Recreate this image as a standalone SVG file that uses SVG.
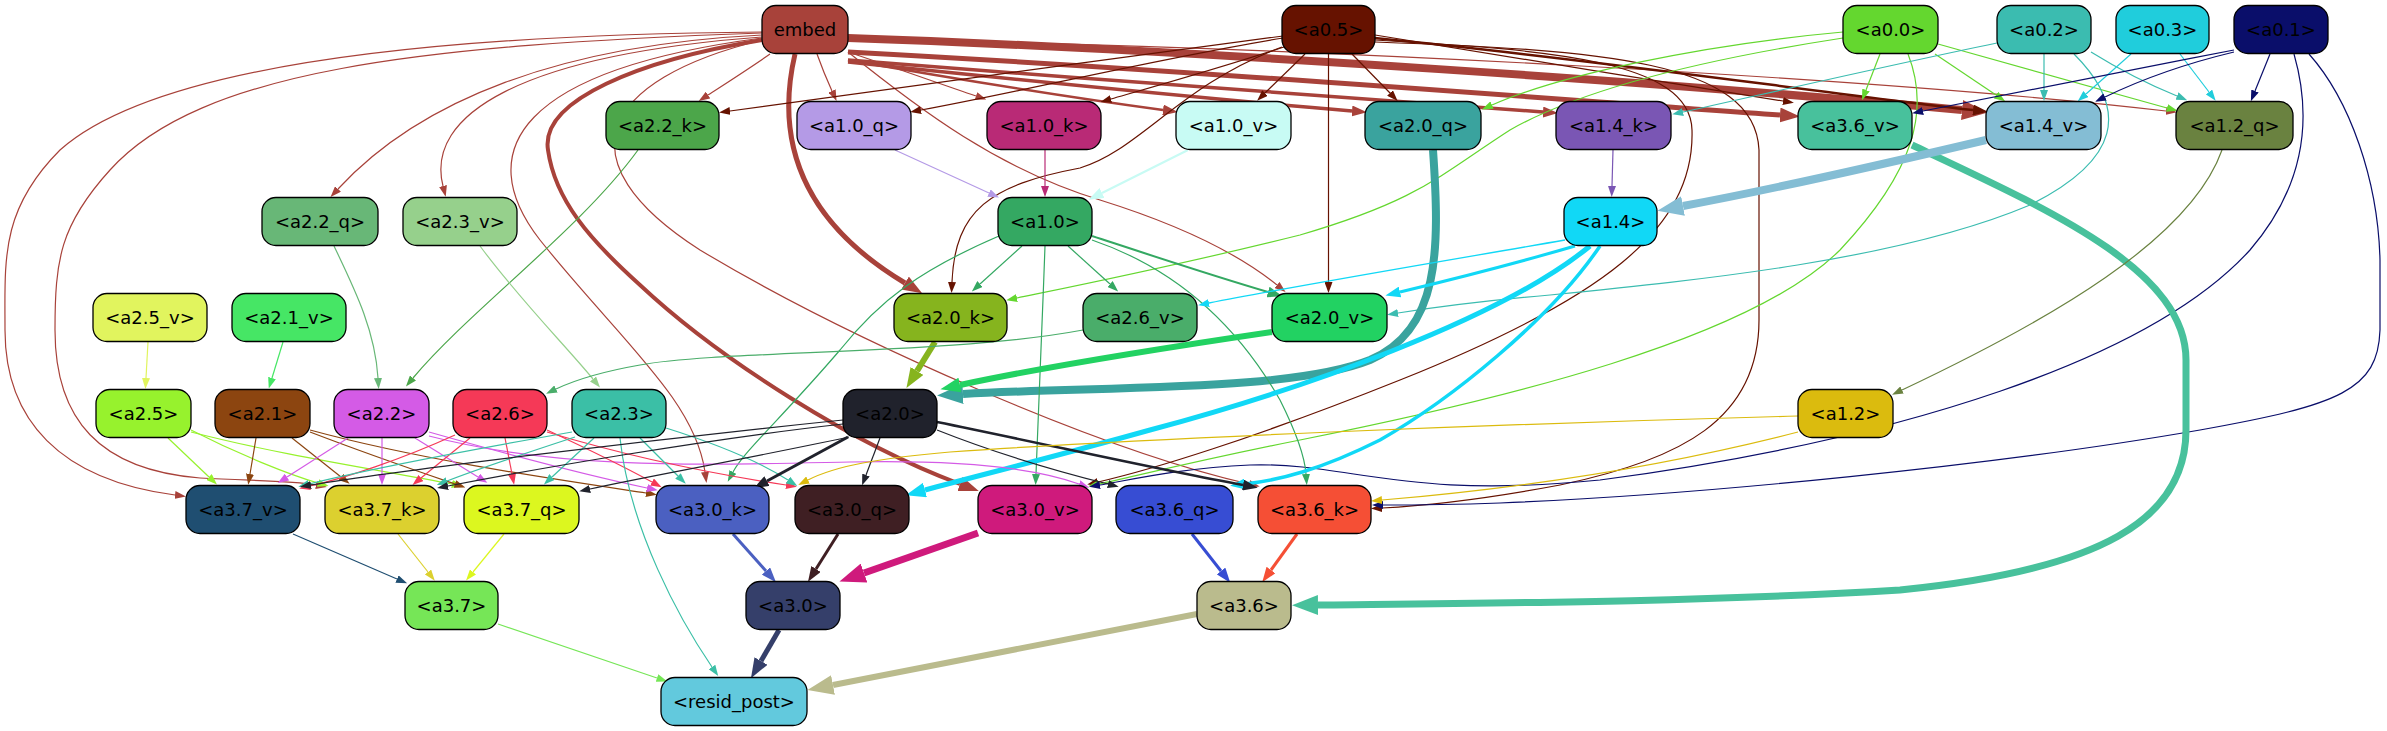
<svg xmlns="http://www.w3.org/2000/svg" width="2387" height="731" viewBox="0 0 2387 731">
<style>
.node rect{stroke:#000;stroke-width:1.3}
.node text{font-family:"DejaVu Sans","Liberation Sans",sans-serif;font-size:18px;text-anchor:middle;fill:#000}
.e{fill:none;stroke-linecap:butt}
</style>
<defs>
<marker id="m_embed_s" viewBox="0 0 10 10" refX="0" refY="5" markerUnits="userSpaceOnUse" markerWidth="11" markerHeight="8" orient="auto" preserveAspectRatio="none"><path d="M0,0L10,5L0,10z" fill="#a8423a"/></marker>
<marker id="m_embed_m" viewBox="0 0 10 10" refX="0" refY="5" markerUnits="userSpaceOnUse" markerWidth="15" markerHeight="11" orient="auto" preserveAspectRatio="none"><path d="M0,0L10,5L0,10z" fill="#a8423a"/></marker>
<marker id="m_embed_l" viewBox="0 0 10 10" refX="0" refY="5" markerUnits="userSpaceOnUse" markerWidth="20" markerHeight="15" orient="auto" preserveAspectRatio="none"><path d="M0,0L10,5L0,10z" fill="#a8423a"/></marker>
<marker id="m_embed_xl" viewBox="0 0 10 10" refX="0" refY="5" markerUnits="userSpaceOnUse" markerWidth="26" markerHeight="20" orient="auto" preserveAspectRatio="none"><path d="M0,0L10,5L0,10z" fill="#a8423a"/></marker>
<marker id="m_a05_s" viewBox="0 0 10 10" refX="0" refY="5" markerUnits="userSpaceOnUse" markerWidth="11" markerHeight="8" orient="auto" preserveAspectRatio="none"><path d="M0,0L10,5L0,10z" fill="#661200"/></marker>
<marker id="m_a05_m" viewBox="0 0 10 10" refX="0" refY="5" markerUnits="userSpaceOnUse" markerWidth="15" markerHeight="11" orient="auto" preserveAspectRatio="none"><path d="M0,0L10,5L0,10z" fill="#661200"/></marker>
<marker id="m_a00_s" viewBox="0 0 10 10" refX="0" refY="5" markerUnits="userSpaceOnUse" markerWidth="11" markerHeight="8" orient="auto" preserveAspectRatio="none"><path d="M0,0L10,5L0,10z" fill="#64d72f"/></marker>
<marker id="m_a02_s" viewBox="0 0 10 10" refX="0" refY="5" markerUnits="userSpaceOnUse" markerWidth="11" markerHeight="8" orient="auto" preserveAspectRatio="none"><path d="M0,0L10,5L0,10z" fill="#3bbcb0"/></marker>
<marker id="m_a03_s" viewBox="0 0 10 10" refX="0" refY="5" markerUnits="userSpaceOnUse" markerWidth="11" markerHeight="8" orient="auto" preserveAspectRatio="none"><path d="M0,0L10,5L0,10z" fill="#20cddc"/></marker>
<marker id="m_a01_s" viewBox="0 0 10 10" refX="0" refY="5" markerUnits="userSpaceOnUse" markerWidth="11" markerHeight="8" orient="auto" preserveAspectRatio="none"><path d="M0,0L10,5L0,10z" fill="#0a0e6a"/></marker>
<marker id="m_a22k_s" viewBox="0 0 10 10" refX="0" refY="5" markerUnits="userSpaceOnUse" markerWidth="11" markerHeight="8" orient="auto" preserveAspectRatio="none"><path d="M0,0L10,5L0,10z" fill="#4ca64a"/></marker>
<marker id="m_a10q_s" viewBox="0 0 10 10" refX="0" refY="5" markerUnits="userSpaceOnUse" markerWidth="11" markerHeight="8" orient="auto" preserveAspectRatio="none"><path d="M0,0L10,5L0,10z" fill="#b49ae6"/></marker>
<marker id="m_a10k_s" viewBox="0 0 10 10" refX="0" refY="5" markerUnits="userSpaceOnUse" markerWidth="11" markerHeight="8" orient="auto" preserveAspectRatio="none"><path d="M0,0L10,5L0,10z" fill="#b92a76"/></marker>
<marker id="m_a10v_m" viewBox="0 0 10 10" refX="0" refY="5" markerUnits="userSpaceOnUse" markerWidth="15" markerHeight="11" orient="auto" preserveAspectRatio="none"><path d="M0,0L10,5L0,10z" fill="#c8fbf4"/></marker>
<marker id="m_a20q_xl" viewBox="0 0 10 10" refX="0" refY="5" markerUnits="userSpaceOnUse" markerWidth="26" markerHeight="20" orient="auto" preserveAspectRatio="none"><path d="M0,0L10,5L0,10z" fill="#3aa39e"/></marker>
<marker id="m_a14k_s" viewBox="0 0 10 10" refX="0" refY="5" markerUnits="userSpaceOnUse" markerWidth="11" markerHeight="8" orient="auto" preserveAspectRatio="none"><path d="M0,0L10,5L0,10z" fill="#7a56b4"/></marker>
<marker id="m_a36v_xl" viewBox="0 0 10 10" refX="0" refY="5" markerUnits="userSpaceOnUse" markerWidth="26" markerHeight="20" orient="auto" preserveAspectRatio="none"><path d="M0,0L10,5L0,10z" fill="#48c19c"/></marker>
<marker id="m_a14v_xl" viewBox="0 0 10 10" refX="0" refY="5" markerUnits="userSpaceOnUse" markerWidth="26" markerHeight="20" orient="auto" preserveAspectRatio="none"><path d="M0,0L10,5L0,10z" fill="#84bdd4"/></marker>
<marker id="m_a12q_s" viewBox="0 0 10 10" refX="0" refY="5" markerUnits="userSpaceOnUse" markerWidth="11" markerHeight="8" orient="auto" preserveAspectRatio="none"><path d="M0,0L10,5L0,10z" fill="#6a8240"/></marker>
<marker id="m_a22q_s" viewBox="0 0 10 10" refX="0" refY="5" markerUnits="userSpaceOnUse" markerWidth="11" markerHeight="8" orient="auto" preserveAspectRatio="none"><path d="M0,0L10,5L0,10z" fill="#68b777"/></marker>
<marker id="m_a23v_s" viewBox="0 0 10 10" refX="0" refY="5" markerUnits="userSpaceOnUse" markerWidth="11" markerHeight="8" orient="auto" preserveAspectRatio="none"><path d="M0,0L10,5L0,10z" fill="#96d08c"/></marker>
<marker id="m_a10_s" viewBox="0 0 10 10" refX="0" refY="5" markerUnits="userSpaceOnUse" markerWidth="11" markerHeight="8" orient="auto" preserveAspectRatio="none"><path d="M0,0L10,5L0,10z" fill="#34a862"/></marker>
<marker id="m_a10_m" viewBox="0 0 10 10" refX="0" refY="5" markerUnits="userSpaceOnUse" markerWidth="15" markerHeight="11" orient="auto" preserveAspectRatio="none"><path d="M0,0L10,5L0,10z" fill="#34a862"/></marker>
<marker id="m_a14_s" viewBox="0 0 10 10" refX="0" refY="5" markerUnits="userSpaceOnUse" markerWidth="11" markerHeight="8" orient="auto" preserveAspectRatio="none"><path d="M0,0L10,5L0,10z" fill="#11d8f6"/></marker>
<marker id="m_a14_m" viewBox="0 0 10 10" refX="0" refY="5" markerUnits="userSpaceOnUse" markerWidth="15" markerHeight="11" orient="auto" preserveAspectRatio="none"><path d="M0,0L10,5L0,10z" fill="#11d8f6"/></marker>
<marker id="m_a14_l" viewBox="0 0 10 10" refX="0" refY="5" markerUnits="userSpaceOnUse" markerWidth="20" markerHeight="15" orient="auto" preserveAspectRatio="none"><path d="M0,0L10,5L0,10z" fill="#11d8f6"/></marker>
<marker id="m_a25v_s" viewBox="0 0 10 10" refX="0" refY="5" markerUnits="userSpaceOnUse" markerWidth="11" markerHeight="8" orient="auto" preserveAspectRatio="none"><path d="M0,0L10,5L0,10z" fill="#e1f45e"/></marker>
<marker id="m_a21v_s" viewBox="0 0 10 10" refX="0" refY="5" markerUnits="userSpaceOnUse" markerWidth="11" markerHeight="8" orient="auto" preserveAspectRatio="none"><path d="M0,0L10,5L0,10z" fill="#46e665"/></marker>
<marker id="m_a20k_l" viewBox="0 0 10 10" refX="0" refY="5" markerUnits="userSpaceOnUse" markerWidth="20" markerHeight="15" orient="auto" preserveAspectRatio="none"><path d="M0,0L10,5L0,10z" fill="#86b41e"/></marker>
<marker id="m_a20v_l" viewBox="0 0 10 10" refX="0" refY="5" markerUnits="userSpaceOnUse" markerWidth="20" markerHeight="15" orient="auto" preserveAspectRatio="none"><path d="M0,0L10,5L0,10z" fill="#22d262"/></marker>
<marker id="m_a26v_s" viewBox="0 0 10 10" refX="0" refY="5" markerUnits="userSpaceOnUse" markerWidth="11" markerHeight="8" orient="auto" preserveAspectRatio="none"><path d="M0,0L10,5L0,10z" fill="#4aad6a"/></marker>
<marker id="m_a25_s" viewBox="0 0 10 10" refX="0" refY="5" markerUnits="userSpaceOnUse" markerWidth="11" markerHeight="8" orient="auto" preserveAspectRatio="none"><path d="M0,0L10,5L0,10z" fill="#97f22d"/></marker>
<marker id="m_a21_s" viewBox="0 0 10 10" refX="0" refY="5" markerUnits="userSpaceOnUse" markerWidth="11" markerHeight="8" orient="auto" preserveAspectRatio="none"><path d="M0,0L10,5L0,10z" fill="#8c4510"/></marker>
<marker id="m_a22_s" viewBox="0 0 10 10" refX="0" refY="5" markerUnits="userSpaceOnUse" markerWidth="11" markerHeight="8" orient="auto" preserveAspectRatio="none"><path d="M0,0L10,5L0,10z" fill="#d45be6"/></marker>
<marker id="m_a26_s" viewBox="0 0 10 10" refX="0" refY="5" markerUnits="userSpaceOnUse" markerWidth="11" markerHeight="8" orient="auto" preserveAspectRatio="none"><path d="M0,0L10,5L0,10z" fill="#f53957"/></marker>
<marker id="m_a23_s" viewBox="0 0 10 10" refX="0" refY="5" markerUnits="userSpaceOnUse" markerWidth="11" markerHeight="8" orient="auto" preserveAspectRatio="none"><path d="M0,0L10,5L0,10z" fill="#3bbfa6"/></marker>
<marker id="m_a20_s" viewBox="0 0 10 10" refX="0" refY="5" markerUnits="userSpaceOnUse" markerWidth="11" markerHeight="8" orient="auto" preserveAspectRatio="none"><path d="M0,0L10,5L0,10z" fill="#20222c"/></marker>
<marker id="m_a20_m" viewBox="0 0 10 10" refX="0" refY="5" markerUnits="userSpaceOnUse" markerWidth="15" markerHeight="11" orient="auto" preserveAspectRatio="none"><path d="M0,0L10,5L0,10z" fill="#20222c"/></marker>
<marker id="m_a12_s" viewBox="0 0 10 10" refX="0" refY="5" markerUnits="userSpaceOnUse" markerWidth="11" markerHeight="8" orient="auto" preserveAspectRatio="none"><path d="M0,0L10,5L0,10z" fill="#dbbb0e"/></marker>
<marker id="m_a37v_s" viewBox="0 0 10 10" refX="0" refY="5" markerUnits="userSpaceOnUse" markerWidth="11" markerHeight="8" orient="auto" preserveAspectRatio="none"><path d="M0,0L10,5L0,10z" fill="#1f4e71"/></marker>
<marker id="m_a37k_s" viewBox="0 0 10 10" refX="0" refY="5" markerUnits="userSpaceOnUse" markerWidth="11" markerHeight="8" orient="auto" preserveAspectRatio="none"><path d="M0,0L10,5L0,10z" fill="#dcd02f"/></marker>
<marker id="m_a37q_s" viewBox="0 0 10 10" refX="0" refY="5" markerUnits="userSpaceOnUse" markerWidth="11" markerHeight="8" orient="auto" preserveAspectRatio="none"><path d="M0,0L10,5L0,10z" fill="#dcf71f"/></marker>
<marker id="m_a30k_m" viewBox="0 0 10 10" refX="0" refY="5" markerUnits="userSpaceOnUse" markerWidth="15" markerHeight="11" orient="auto" preserveAspectRatio="none"><path d="M0,0L10,5L0,10z" fill="#4b60c1"/></marker>
<marker id="m_a30q_m" viewBox="0 0 10 10" refX="0" refY="5" markerUnits="userSpaceOnUse" markerWidth="15" markerHeight="11" orient="auto" preserveAspectRatio="none"><path d="M0,0L10,5L0,10z" fill="#3f1f23"/></marker>
<marker id="m_a30v_xl" viewBox="0 0 10 10" refX="0" refY="5" markerUnits="userSpaceOnUse" markerWidth="26" markerHeight="20" orient="auto" preserveAspectRatio="none"><path d="M0,0L10,5L0,10z" fill="#cf1a7c"/></marker>
<marker id="m_a36q_m" viewBox="0 0 10 10" refX="0" refY="5" markerUnits="userSpaceOnUse" markerWidth="15" markerHeight="11" orient="auto" preserveAspectRatio="none"><path d="M0,0L10,5L0,10z" fill="#374dd3"/></marker>
<marker id="m_a36k_m" viewBox="0 0 10 10" refX="0" refY="5" markerUnits="userSpaceOnUse" markerWidth="15" markerHeight="11" orient="auto" preserveAspectRatio="none"><path d="M0,0L10,5L0,10z" fill="#f54f35"/></marker>
<marker id="m_a37_s" viewBox="0 0 10 10" refX="0" refY="5" markerUnits="userSpaceOnUse" markerWidth="11" markerHeight="8" orient="auto" preserveAspectRatio="none"><path d="M0,0L10,5L0,10z" fill="#76e657"/></marker>
<marker id="m_a30_l" viewBox="0 0 10 10" refX="0" refY="5" markerUnits="userSpaceOnUse" markerWidth="20" markerHeight="15" orient="auto" preserveAspectRatio="none"><path d="M0,0L10,5L0,10z" fill="#353f6a"/></marker>
<marker id="m_a36_xl" viewBox="0 0 10 10" refX="0" refY="5" markerUnits="userSpaceOnUse" markerWidth="26" markerHeight="20" orient="auto" preserveAspectRatio="none"><path d="M0,0L10,5L0,10z" fill="#babb8d"/></marker>
</defs>
<rect x="0" y="0" width="2387" height="731" fill="#fff"/>
<g id="connectors">
<!-- embed -->
<path class="e" d="M770,54 C750,68 728,82 708,95" stroke="#a8423a" stroke-width="1.2" marker-end="url(#m_embed_s)"/>
<path class="e" d="M817,54 C822,68 827,80 832,91" stroke="#a8423a" stroke-width="1.2" marker-end="url(#m_embed_s)"/>
<path class="e" d="M848,52 C890,66 935,82 976,96" stroke="#a8423a" stroke-width="1.2" marker-end="url(#m_embed_s)"/>
<path class="e" d="M848,60 C950,78 1060,96 1163,110" stroke="#a8423a" stroke-width="2.5" marker-end="url(#m_embed_m)"/>
<path class="e" d="M848,62 C1020,80 1200,98 1352,111" stroke="#a8423a" stroke-width="3.5" marker-end="url(#m_embed_m)"/>
<path class="e" d="M848,60 C1080,78 1320,97 1543,112" stroke="#a8423a" stroke-width="3.5" marker-end="url(#m_embed_m)"/>
<path class="e" d="M848,52 C1180,70 1500,95 1780,115" stroke="#a8423a" stroke-width="5" marker-end="url(#m_embed_l)"/>
<path class="e" d="M848,38 C1200,50 1700,85 1962,110" stroke="#a8423a" stroke-width="8" marker-end="url(#m_embed_xl)"/>
<path class="e" d="M848,40 C1300,45 1900,80 2166,111" stroke="#a8423a" stroke-width="1.2" marker-end="url(#m_embed_s)"/>
<path class="e" d="M762,35 C560,45 420,100 338,189" stroke="#a8423a" stroke-width="1.2" marker-end="url(#m_embed_s)"/>
<path class="e" d="M762,37 C520,55 425,115 443,186" stroke="#a8423a" stroke-width="1.2" marker-end="url(#m_embed_s)"/>
<path class="e" d="M795,54 C775,140 800,220 905,283" stroke="#a8423a" stroke-width="5" marker-end="url(#m_embed_l)"/>
<path class="e" d="M762,40 C640,60 540,100 548,150 C555,200 590,240 640,285 C720,360 855,445 960,484" stroke="#a8423a" stroke-width="4" marker-end="url(#m_embed_l)"/>
<path class="e" d="M762,32 C400,35 150,70 60,150 C0,210 5,260 5,330 C5,420 60,480 175,495" stroke="#a8423a" stroke-width="1.2" marker-end="url(#m_embed_s)"/>
<path class="e" d="M762,33 C420,45 200,70 110,170 C60,225 55,260 55,330 C55,420 100,470 200,478 C250,481 290,480 316,485" stroke="#a8423a" stroke-width="1.2" marker-end="url(#m_embed_s)"/>
<path class="e" d="M762,38 C520,70 470,150 540,240 C620,340 695,400 705,472" stroke="#a8423a" stroke-width="1.2" marker-end="url(#m_embed_s)"/>
<path class="e" d="M762,40 C600,80 560,160 700,250 C850,340 1100,450 1249,484" stroke="#a8423a" stroke-width="1.2" marker-end="url(#m_embed_s)"/>
<path class="e" d="M848,52 C920,110 1000,170 1100,200 C1180,225 1240,255 1277,285" stroke="#a8423a" stroke-width="1.2" marker-end="url(#m_embed_s)"/>
<!-- a0.5 -->
<path class="e" d="M1283,36 C1100,60 900,88 730,111" stroke="#661200" stroke-width="1.2" marker-end="url(#m_a05_s)"/>
<path class="e" d="M1283,38 C1150,60 1030,90 921,110" stroke="#661200" stroke-width="1.2" marker-end="url(#m_a05_s)"/>
<path class="e" d="M1290,45 C1230,65 1170,82 1111,99" stroke="#661200" stroke-width="1.2" marker-end="url(#m_a05_s)"/>
<path class="e" d="M1305,54 L1265,93" stroke="#661200" stroke-width="1.2" marker-end="url(#m_a05_s)"/>
<path class="e" d="M1352,54 L1390,93" stroke="#661200" stroke-width="1.2" marker-end="url(#m_a05_s)"/>
<path class="e" d="M1375,35 C1500,55 1650,80 1783,101" stroke="#661200" stroke-width="1.2" marker-end="url(#m_a05_s)"/>
<path class="e" d="M1375,38 C1600,60 1800,90 1973,110" stroke="#661200" stroke-width="2.5" marker-end="url(#m_a05_m)"/>
<path class="e" d="M1282,47 C1180,85 1140,150 1080,168 C990,185 955,210 952,282" stroke="#661200" stroke-width="1.2" marker-end="url(#m_a05_s)"/>
<path class="e" d="M1328.5,54 L1328.5,282" stroke="#661200" stroke-width="1.2" marker-end="url(#m_a05_s)"/>
<path class="e" d="M1375,40 C1550,50 1690,60 1692,130 C1695,230 1600,300 1400,380 C1250,440 1150,470 1098,482" stroke="#661200" stroke-width="1.2" marker-end="url(#m_a05_s)"/>
<path class="e" d="M1375,42 C1600,50 1755,60 1759,150 L1759,320 C1759,420 1680,460 1560,485 C1480,500 1420,506 1382,508" stroke="#661200" stroke-width="1.2" marker-end="url(#m_a05_s)"/>
<!-- a0.0 -->
<path class="e" d="M1843,32 C1700,45 1560,75 1492,105" stroke="#64d72f" stroke-width="1.2" marker-end="url(#m_a00_s)"/>
<path class="e" d="M1843,38 C1700,60 1580,90 1510,130 C1440,175 1420,200 1300,235 C1180,265 1080,285 1017,298" stroke="#64d72f" stroke-width="1.2" marker-end="url(#m_a00_s)"/>
<path class="e" d="M1880,54 L1866,90" stroke="#64d72f" stroke-width="1.2" marker-end="url(#m_a00_s)"/>
<path class="e" d="M1935,54 L1996,95" stroke="#64d72f" stroke-width="1.2" marker-end="url(#m_a00_s)"/>
<path class="e" d="M1938,44 C2020,67 2100,90 2167,108" stroke="#64d72f" stroke-width="1.2" marker-end="url(#m_a00_s)"/>
<path class="e" d="M1908,54 C1930,110 1915,170 1840,250 C1750,340 1500,400 1300,440 C1200,460 1140,475 1099,484" stroke="#64d72f" stroke-width="1.2" marker-end="url(#m_a00_s)"/>
<!-- a0.2 -->
<path class="e" d="M1997,43 C1890,65 1760,95 1683,112" stroke="#3bbcb0" stroke-width="1.2" marker-end="url(#m_a02_s)"/>
<path class="e" d="M2044,54 L2044,90" stroke="#3bbcb0" stroke-width="1.2" marker-end="url(#m_a02_s)"/>
<path class="e" d="M2091,52 C2120,70 2150,85 2177,96" stroke="#3bbcb0" stroke-width="1.2" marker-end="url(#m_a02_s)"/>
<path class="e" d="M2074,54 C2130,110 2120,160 2030,205 C1900,260 1700,280 1550,295 C1470,302 1430,308 1398,313" stroke="#3bbcb0" stroke-width="1.2" marker-end="url(#m_a02_s)"/>
<!-- a0.3 -->
<path class="e" d="M2131,54 L2086,94" stroke="#20cddc" stroke-width="1.2" marker-end="url(#m_a03_s)"/>
<path class="e" d="M2180,54 L2209,92" stroke="#20cddc" stroke-width="1.2" marker-end="url(#m_a03_s)"/>
<!-- a0.1 -->
<path class="e" d="M2234,50 C2120,72 2000,95 1923,111" stroke="#0a0e6a" stroke-width="1.2" marker-end="url(#m_a01_s)"/>
<path class="e" d="M2234,52 C2180,65 2140,80 2105,97" stroke="#0a0e6a" stroke-width="1.2" marker-end="url(#m_a01_s)"/>
<path class="e" d="M2270,54 L2255,91" stroke="#0a0e6a" stroke-width="1.2" marker-end="url(#m_a01_s)"/>
<path class="e" d="M2294,54 C2310,110 2310,180 2250,250 C2150,360 1900,440 1600,480 C1400,500 1350,462 1250,465 C1180,468 1130,480 1100,485" stroke="#0a0e6a" stroke-width="1.2" marker-end="url(#m_a01_s)"/>
<path class="e" d="M2309,54 C2350,100 2378,180 2380,260 L2380,330 C2378,390 2340,405 2200,430 C2000,465 1700,495 1500,503 C1440,505 1410,505 1383,505" stroke="#0a0e6a" stroke-width="1.2" marker-end="url(#m_a01_s)"/>
<!-- row 2 sources -->
<path class="e" d="M638,150 C580,230 470,310 413,378" stroke="#4ca64a" stroke-width="1.2" marker-end="url(#m_a22k_s)"/>
<path class="e" d="M895,150 L989,193" stroke="#b49ae6" stroke-width="1.2" marker-end="url(#m_a10q_s)"/>
<path class="e" d="M1045,150 L1045,186" stroke="#b92a76" stroke-width="1.2" marker-end="url(#m_a10k_s)"/>
<path class="e" d="M1188,150 L1102,193" stroke="#c8fbf4" stroke-width="2.2" marker-end="url(#m_a10v_m)"/>
<path class="e" d="M1433,150 C1440,250 1440,330 1370,360 C1290,392 1100,386 963,394" stroke="#3aa39e" stroke-width="8" marker-end="url(#m_a20q_xl)"/>
<path class="e" d="M1613,150 L1612,186" stroke="#7a56b4" stroke-width="1.2" marker-end="url(#m_a14k_s)"/>
<path class="e" d="M1912,145 C2050,210 2186,270 2186,360 L2186,430 C2186,520 2100,570 1900,590 C1700,602 1500,603 1318,605" stroke="#48c19c" stroke-width="7" marker-end="url(#m_a36v_xl)"/>
<path class="e" d="M1986,140 C1880,165 1780,188 1683,206" stroke="#84bdd4" stroke-width="8" marker-end="url(#m_a14v_xl)"/>
<path class="e" d="M2222,150 C2190,240 2050,320 1902,390" stroke="#6a8240" stroke-width="1.2" marker-end="url(#m_a12q_s)"/>
<!-- row 3 sources -->
<path class="e" d="M334,246 C355,290 375,330 378,378" stroke="#68b777" stroke-width="1.2" marker-end="url(#m_a22q_s)"/>
<path class="e" d="M480,246 C520,300 565,345 593,379" stroke="#96d08c" stroke-width="1.2" marker-end="url(#m_a23v_s)"/>
<path class="e" d="M1022,246 L980,284" stroke="#34a862" stroke-width="1.2" marker-end="url(#m_a10_s)"/>
<path class="e" d="M1068,246 L1110,284" stroke="#34a862" stroke-width="1.2" marker-end="url(#m_a10_s)"/>
<path class="e" d="M1092,236 C1150,255 1210,275 1268,292" stroke="#34a862" stroke-width="2" marker-end="url(#m_a10_m)"/>
<path class="e" d="M999,236 C920,270 880,300 840,350 C780,420 745,450 733,472" stroke="#34a862" stroke-width="1.2" marker-end="url(#m_a10_s)"/>
<path class="e" d="M1045,246 C1042,330 1038,420 1036,474" stroke="#34a862" stroke-width="1.2" marker-end="url(#m_a10_s)"/>
<path class="e" d="M1092,240 C1180,270 1240,330 1280,400 C1300,440 1305,460 1306,474" stroke="#34a862" stroke-width="1.2" marker-end="url(#m_a10_s)"/>
<path class="e" d="M1575,246 C1510,265 1450,280 1400,292" stroke="#11d8f6" stroke-width="3" marker-end="url(#m_a14_m)"/>
<path class="e" d="M1565,240 C1450,260 1300,285 1209,303" stroke="#11d8f6" stroke-width="1.3" marker-end="url(#m_a14_s)"/>
<path class="e" d="M1590,246 C1500,320 1300,390 1150,430 C1050,458 980,475 925,490" stroke="#11d8f6" stroke-width="5" marker-end="url(#m_a14_l)"/>
<path class="e" d="M1600,246 C1550,320 1450,400 1380,440 C1320,470 1280,480 1245,484" stroke="#11d8f6" stroke-width="3.5" marker-end="url(#m_a14_m)"/>
<!-- row 4 sources -->
<path class="e" d="M148,342 L146,378" stroke="#e1f45e" stroke-width="1.2" marker-end="url(#m_a25v_s)"/>
<path class="e" d="M283,342 L272,378" stroke="#46e665" stroke-width="1.2" marker-end="url(#m_a21v_s)"/>
<path class="e" d="M935,342 L917,371" stroke="#86b41e" stroke-width="6" marker-end="url(#m_a20k_l)"/>
<path class="e" d="M1272,332 C1150,350 1030,370 960,385" stroke="#22d262" stroke-width="6" marker-end="url(#m_a20v_l)"/>
<path class="e" d="M1083,330 C950,355 720,350 640,365 C600,372 575,380 556,389" stroke="#4aad6a" stroke-width="1.2" marker-end="url(#m_a26v_s)"/>
<!-- row 5 sources -->
<path class="e" d="M168,438 L209,477" stroke="#97f22d" stroke-width="1.2" marker-end="url(#m_a25_s)"/>
<path class="e" d="M191,430 C240,455 290,475 318,483" stroke="#97f22d" stroke-width="1.2" marker-end="url(#m_a25_s)"/>
<path class="e" d="M191,432 C280,455 380,470 452,484" stroke="#97f22d" stroke-width="1.2" marker-end="url(#m_a25_s)"/>
<path class="e" d="M256,438 L250,474" stroke="#8c4510" stroke-width="1.2" marker-end="url(#m_a21_s)"/>
<path class="e" d="M292,438 L341,477" stroke="#8c4510" stroke-width="1.2" marker-end="url(#m_a21_s)"/>
<path class="e" d="M310,432 C370,455 420,472 455,484" stroke="#8c4510" stroke-width="1.2" marker-end="url(#m_a21_s)"/>
<path class="e" d="M310,430 C420,460 560,480 646,493" stroke="#8c4510" stroke-width="1.2" marker-end="url(#m_a21_s)"/>
<path class="e" d="M348,438 L287,477" stroke="#d45be6" stroke-width="1.2" marker-end="url(#m_a22_s)"/>
<path class="e" d="M382,438 L382,474" stroke="#d45be6" stroke-width="1.2" marker-end="url(#m_a22_s)"/>
<path class="e" d="M415,438 L478,477" stroke="#d45be6" stroke-width="1.2" marker-end="url(#m_a22_s)"/>
<path class="e" d="M429,432 C510,455 600,478 647,488" stroke="#d45be6" stroke-width="1.2" marker-end="url(#m_a22_s)"/>
<path class="e" d="M429,436 C560,470 700,465 850,462 C950,460 1030,466 1079,484" stroke="#d45be6" stroke-width="1.2" marker-end="url(#m_a22_s)"/>
<path class="e" d="M455,435 C400,460 345,478 310,486" stroke="#f53957" stroke-width="1.2" marker-end="url(#m_a26_s)"/>
<path class="e" d="M470,438 L421,478" stroke="#f53957" stroke-width="1.2" marker-end="url(#m_a26_s)"/>
<path class="e" d="M505,438 L512,474" stroke="#f53957" stroke-width="1.2" marker-end="url(#m_a26_s)"/>
<path class="e" d="M547,430 C590,450 630,470 652,482" stroke="#f53957" stroke-width="1.2" marker-end="url(#m_a26_s)"/>
<path class="e" d="M547,432 C640,460 720,475 786,485" stroke="#f53957" stroke-width="1.2" marker-end="url(#m_a26_s)"/>
<path class="e" d="M572,432 C470,450 365,470 309,484" stroke="#3bbfa6" stroke-width="1.2" marker-end="url(#m_a23_s)"/>
<path class="e" d="M575,437 C520,455 475,470 447,481" stroke="#3bbfa6" stroke-width="1.2" marker-end="url(#m_a23_s)"/>
<path class="e" d="M594,438 L552,477" stroke="#3bbfa6" stroke-width="1.2" marker-end="url(#m_a23_s)"/>
<path class="e" d="M640,438 L678,476" stroke="#3bbfa6" stroke-width="1.2" marker-end="url(#m_a23_s)"/>
<path class="e" d="M666,428 C720,445 760,462 788,480" stroke="#3bbfa6" stroke-width="1.2" marker-end="url(#m_a23_s)"/>
<path class="e" d="M620,438 C630,530 680,620 712,667" stroke="#3bbfa6" stroke-width="1.2" marker-end="url(#m_a23_s)"/>
<path class="e" d="M843,420 C650,440 400,470 311,485" stroke="#20222c" stroke-width="1.2" marker-end="url(#m_a20_s)"/>
<path class="e" d="M843,424 C700,440 530,470 448,486" stroke="#20222c" stroke-width="1.2" marker-end="url(#m_a20_s)"/>
<path class="e" d="M849,437 C740,460 640,478 590,489" stroke="#20222c" stroke-width="1.2" marker-end="url(#m_a20_s)"/>
<path class="e" d="M848,437 L767,481" stroke="#20222c" stroke-width="3" marker-end="url(#m_a20_m)"/>
<path class="e" d="M880,438 L866,475" stroke="#20222c" stroke-width="1.2" marker-end="url(#m_a20_s)"/>
<path class="e" d="M937,430 C1000,455 1060,472 1108,484" stroke="#20222c" stroke-width="1.2" marker-end="url(#m_a20_s)"/>
<path class="e" d="M937,422 C1050,445 1160,470 1243,485" stroke="#20222c" stroke-width="2.5" marker-end="url(#m_a20_m)"/>
<path class="e" d="M1798,416 C1500,424 1150,438 950,452 C880,458 835,466 808,480" stroke="#dbbb0e" stroke-width="1.2" marker-end="url(#m_a12_s)"/>
<path class="e" d="M1798,432 C1650,470 1500,490 1382,500" stroke="#dbbb0e" stroke-width="1.2" marker-end="url(#m_a12_s)"/>
<!-- row 6 sources -->
<path class="e" d="M293,534 L397,579" stroke="#1f4e71" stroke-width="1.2" marker-end="url(#m_a37v_s)"/>
<path class="e" d="M398,534 L428,572" stroke="#dcd02f" stroke-width="1.2" marker-end="url(#m_a37k_s)"/>
<path class="e" d="M504,534 L473,572" stroke="#dcf71f" stroke-width="1.2" marker-end="url(#m_a37q_s)"/>
<path class="e" d="M733,534 L766,571" stroke="#4b60c1" stroke-width="3" marker-end="url(#m_a30k_m)"/>
<path class="e" d="M838,534 L816,569" stroke="#3f1f23" stroke-width="3" marker-end="url(#m_a30q_m)"/>
<path class="e" d="M978,533 L864,573" stroke="#cf1a7c" stroke-width="7" marker-end="url(#m_a30v_xl)"/>
<path class="e" d="M1192,534 L1221,571" stroke="#374dd3" stroke-width="3" marker-end="url(#m_a36q_m)"/>
<path class="e" d="M1297,534 L1271,570" stroke="#f54f35" stroke-width="3" marker-end="url(#m_a36k_m)"/>
<!-- row 7 sources -->
<path class="e" d="M498,624 L657,678" stroke="#76e657" stroke-width="1.2" marker-end="url(#m_a37_s)"/>
<path class="e" d="M779,630 L761,661" stroke="#353f6a" stroke-width="5" marker-end="url(#m_a30_l)"/>
<path class="e" d="M1197,614 L833,685" stroke="#babb8d" stroke-width="6" marker-end="url(#m_a36_xl)"/>
</g>
<g id="n-embed" class="node"><rect x="762" y="5.5" width="86" height="48" rx="14" fill="#a8423a"/><text x="805" y="36">embed</text></g>
<g id="n-a0.5" class="node"><rect x="1282" y="5.5" width="93" height="48" rx="14" fill="#661200"/><text x="1328.5" y="36">&lt;a0.5&gt;</text></g>
<g id="n-a0.0" class="node"><rect x="1843" y="5.5" width="95" height="48" rx="14" fill="#64d72f"/><text x="1890.5" y="36">&lt;a0.0&gt;</text></g>
<g id="n-a0.2" class="node"><rect x="1997" y="5.5" width="94" height="48" rx="14" fill="#3bbcb0"/><text x="2044" y="36">&lt;a0.2&gt;</text></g>
<g id="n-a0.3" class="node"><rect x="2116" y="5.5" width="93" height="48" rx="14" fill="#20cddc"/><text x="2162.5" y="36">&lt;a0.3&gt;</text></g>
<g id="n-a0.1" class="node"><rect x="2234" y="5.5" width="94" height="48" rx="14" fill="#0a0e6a"/><text x="2281" y="36">&lt;a0.1&gt;</text></g>
<g id="n-a2.2_k" class="node"><rect x="606" y="101.5" width="113" height="48" rx="14" fill="#4ca64a"/><text x="662.5" y="132">&lt;a2.2_k&gt;</text></g>
<g id="n-a1.0_q" class="node"><rect x="797" y="101.5" width="114" height="48" rx="14" fill="#b49ae6"/><text x="854" y="132">&lt;a1.0_q&gt;</text></g>
<g id="n-a1.0_k" class="node"><rect x="987" y="101.5" width="114" height="48" rx="14" fill="#b92a76"/><text x="1044" y="132">&lt;a1.0_k&gt;</text></g>
<g id="n-a1.0_v" class="node"><rect x="1176" y="101.5" width="115" height="48" rx="14" fill="#c8fbf4"/><text x="1233.5" y="132">&lt;a1.0_v&gt;</text></g>
<g id="n-a2.0_q" class="node"><rect x="1365" y="101.5" width="116" height="48" rx="14" fill="#3aa39e"/><text x="1423" y="132">&lt;a2.0_q&gt;</text></g>
<g id="n-a1.4_k" class="node"><rect x="1556" y="101.5" width="115" height="48" rx="14" fill="#7a56b4"/><text x="1613.5" y="132">&lt;a1.4_k&gt;</text></g>
<g id="n-a3.6_v" class="node"><rect x="1798" y="101.5" width="114" height="48" rx="14" fill="#48c19c"/><text x="1855" y="132">&lt;a3.6_v&gt;</text></g>
<g id="n-a1.4_v" class="node"><rect x="1986" y="101.5" width="115" height="48" rx="14" fill="#84bdd4"/><text x="2043.5" y="132">&lt;a1.4_v&gt;</text></g>
<g id="n-a1.2_q" class="node"><rect x="2176" y="101.5" width="117" height="48" rx="14" fill="#6a8240"/><text x="2234.5" y="132">&lt;a1.2_q&gt;</text></g>
<g id="n-a2.2_q" class="node"><rect x="262" y="197.5" width="116" height="48" rx="14" fill="#68b777"/><text x="320" y="228">&lt;a2.2_q&gt;</text></g>
<g id="n-a2.3_v" class="node"><rect x="403" y="197.5" width="114" height="48" rx="14" fill="#96d08c"/><text x="460" y="228">&lt;a2.3_v&gt;</text></g>
<g id="n-a1.0" class="node"><rect x="998" y="197.5" width="94" height="48" rx="14" fill="#34a862"/><text x="1045" y="228">&lt;a1.0&gt;</text></g>
<g id="n-a1.4" class="node"><rect x="1564" y="197.5" width="93" height="48" rx="14" fill="#11d8f6"/><text x="1610.5" y="228">&lt;a1.4&gt;</text></g>
<g id="n-a2.5_v" class="node"><rect x="93" y="293.5" width="114" height="48" rx="14" fill="#e1f45e"/><text x="150" y="324">&lt;a2.5_v&gt;</text></g>
<g id="n-a2.1_v" class="node"><rect x="232" y="293.5" width="114" height="48" rx="14" fill="#46e665"/><text x="289" y="324">&lt;a2.1_v&gt;</text></g>
<g id="n-a2.0_k" class="node"><rect x="894" y="293.5" width="113" height="48" rx="14" fill="#86b41e"/><text x="950.5" y="324">&lt;a2.0_k&gt;</text></g>
<g id="n-a2.6_v" class="node"><rect x="1083" y="293.5" width="114" height="48" rx="14" fill="#4aad6a"/><text x="1140" y="324">&lt;a2.6_v&gt;</text></g>
<g id="n-a2.0_v" class="node"><rect x="1272" y="293.5" width="115" height="48" rx="14" fill="#22d262"/><text x="1329.5" y="324">&lt;a2.0_v&gt;</text></g>
<g id="n-a2.5" class="node"><rect x="96" y="389.5" width="95" height="48" rx="14" fill="#97f22d"/><text x="143.5" y="420">&lt;a2.5&gt;</text></g>
<g id="n-a2.1" class="node"><rect x="215" y="389.5" width="95" height="48" rx="14" fill="#8c4510"/><text x="262.5" y="420">&lt;a2.1&gt;</text></g>
<g id="n-a2.2" class="node"><rect x="334" y="389.5" width="95" height="48" rx="14" fill="#d45be6"/><text x="381.5" y="420">&lt;a2.2&gt;</text></g>
<g id="n-a2.6" class="node"><rect x="453" y="389.5" width="94" height="48" rx="14" fill="#f53957"/><text x="500" y="420">&lt;a2.6&gt;</text></g>
<g id="n-a2.3" class="node"><rect x="572" y="389.5" width="94" height="48" rx="14" fill="#3bbfa6"/><text x="619" y="420">&lt;a2.3&gt;</text></g>
<g id="n-a2.0" class="node"><rect x="843" y="389.5" width="94" height="48" rx="14" fill="#20222c"/><text x="890" y="420">&lt;a2.0&gt;</text></g>
<g id="n-a1.2" class="node"><rect x="1798" y="389.5" width="95" height="48" rx="14" fill="#dbbb0e"/><text x="1845.5" y="420">&lt;a1.2&gt;</text></g>
<g id="n-a3.7_v" class="node"><rect x="186" y="485.5" width="114" height="48" rx="14" fill="#1f4e71"/><text x="243" y="516">&lt;a3.7_v&gt;</text></g>
<g id="n-a3.7_k" class="node"><rect x="325" y="485.5" width="114" height="48" rx="14" fill="#dcd02f"/><text x="382" y="516">&lt;a3.7_k&gt;</text></g>
<g id="n-a3.7_q" class="node"><rect x="464" y="485.5" width="115" height="48" rx="14" fill="#dcf71f"/><text x="521.5" y="516">&lt;a3.7_q&gt;</text></g>
<g id="n-a3.0_k" class="node"><rect x="656" y="485.5" width="113" height="48" rx="14" fill="#4b60c1"/><text x="712.5" y="516">&lt;a3.0_k&gt;</text></g>
<g id="n-a3.0_q" class="node"><rect x="795" y="485.5" width="114" height="48" rx="14" fill="#3f1f23"/><text x="852" y="516">&lt;a3.0_q&gt;</text></g>
<g id="n-a3.0_v" class="node"><rect x="978" y="485.5" width="114" height="48" rx="14" fill="#cf1a7c"/><text x="1035" y="516">&lt;a3.0_v&gt;</text></g>
<g id="n-a3.6_q" class="node"><rect x="1116" y="485.5" width="117" height="48" rx="14" fill="#374dd3"/><text x="1174.5" y="516">&lt;a3.6_q&gt;</text></g>
<g id="n-a3.6_k" class="node"><rect x="1258" y="485.5" width="113" height="48" rx="14" fill="#f54f35"/><text x="1314.5" y="516">&lt;a3.6_k&gt;</text></g>
<g id="n-a3.7" class="node"><rect x="405" y="581.5" width="93" height="48" rx="14" fill="#76e657"/><text x="451.5" y="612">&lt;a3.7&gt;</text></g>
<g id="n-a3.0" class="node"><rect x="746" y="581.5" width="94" height="48" rx="14" fill="#353f6a"/><text x="793" y="612">&lt;a3.0&gt;</text></g>
<g id="n-a3.6" class="node"><rect x="1197" y="581.5" width="94" height="48" rx="14" fill="#babb8d"/><text x="1244" y="612">&lt;a3.6&gt;</text></g>
<g id="n-resid_post" class="node"><rect x="661" y="677.5" width="146" height="48" rx="14" fill="#62c9dd"/><text x="734" y="708">&lt;resid_post&gt;</text></g>
</svg>
